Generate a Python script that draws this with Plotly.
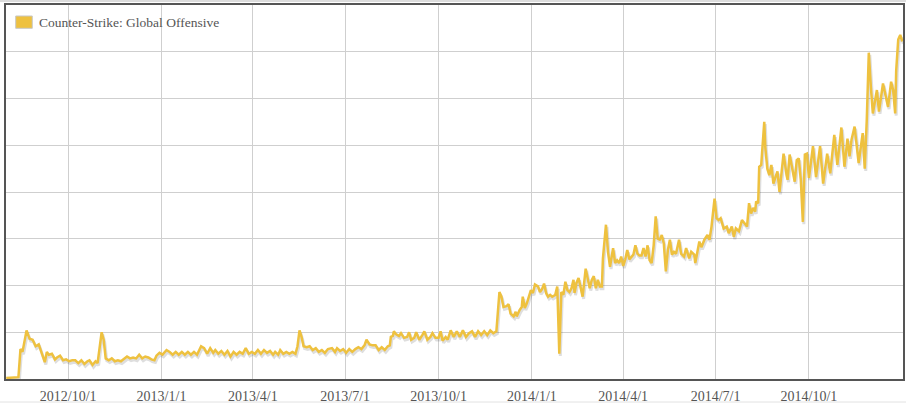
import pandas as pd
import plotly.graph_objects as go

series_name = "Counter-Strike: Global Offensive"

# days since 2012-08-01
day = [0, 12, 14, 16, 20, 23, 26, 29, 32, 35, 38, 40, 42, 45, 48, 50, 53, 56, 59, 62,
       65, 68, 71, 74, 77, 80, 82, 85, 88, 90, 92, 94, 96, 98, 101, 104, 107, 110, 113, 116,
       119, 122, 125, 128, 131, 134, 137, 140, 143, 146, 148, 151,
       154, 158, 161, 164, 167, 170, 173, 176, 179, 182, 185, 188, 192, 195, 198, 201, 204, 206,
       209, 212, 215, 218, 221, 224, 227, 230, 233, 236, 239, 242, 245, 248, 251, 254, 257, 260,
       263, 265, 268, 270, 273, 276, 279, 282, 285, 287, 289, 291, 293, 296, 299, 302, 305, 308,
       311, 314, 317,
       321, 324, 326, 329, 332, 335, 338, 341, 344, 347, 350, 353, 355, 358, 361, 364, 367, 370,
       373, 376, 378, 379, 381, 382, 384, 387, 389, 392, 395, 397, 399, 402, 404, 407, 410, 412,
       415, 418, 420, 423, 426, 428, 430, 433, 435, 438, 441, 444, 447, 450, 453, 456, 459, 462,
       465, 468, 471, 474, 477, 480, 483, 484, 486, 488, 490, 493, 495, 497, 500, 502, 503, 506,
       508, 509, 511, 513, 515, 517, 519, 521, 524, 526, 528, 530, 532, 534, 536, 538, 541, 543,
       545, 547, 549, 551, 553, 555, 557, 559, 560, 562, 564, 566, 568, 571, 573, 575, 577, 579,
       581, 583, 585, 587, 588, 591, 593, 595, 598, 600, 602, 604, 606, 608, 610, 612, 614, 617,
       618, 620, 622, 624, 626, 628, 630, 632, 634, 636, 638, 640, 642, 644, 646, 648, 650, 652,
       654, 656, 658, 660, 663, 665, 668, 670, 673, 675, 678, 679, 681, 683, 685, 688, 691, 693,
       695, 698, 700, 702, 704, 707, 710, 712, 715, 717, 719, 722, 725, 727, 730, 732, 734, 736,
       738, 739, 741, 742, 744, 747, 748, 750, 752, 754, 756, 758, 760, 762, 764, 766, 769, 770,
       772, 775, 777, 779, 781, 783, 785, 787, 789, 791,
       795, 798, 802, 805, 809, 812, 816, 819, 823, 826, 829, 831, 833, 836, 840, 844, 846, 848,
       850, 852, 854, 858, 860, 864, 869, 872, 874, 876, 877, 879, 881, 883]

# concurrent players (thousands)
players = [1, 2, 32, 29, 52, 43, 42, 35, 37, 28, 18, 29, 26, 27, 21, 23, 25, 20, 21, 19,
           20, 20, 17, 20, 16, 19, 20, 15, 19, 17, 31, 50, 42, 22, 20, 22, 19, 20, 19, 22,
           24, 22, 23, 22, 26, 22, 24, 23, 21, 20, 25, 28,
           26, 31, 29, 26, 29, 26, 29, 26, 29, 26, 29, 26, 35, 33, 27, 33, 28, 31,
           27, 30, 26, 30, 24, 29, 26, 29, 27, 33, 27, 29, 27, 31, 27, 31, 28, 30,
           26, 29, 26, 31, 27, 29, 27, 29, 27, 35, 52, 45, 35, 34, 35, 31, 33, 29,
           31, 28, 32,
           33, 29, 33, 30, 32, 28, 32, 29, 32, 34, 32, 36, 42, 37, 36, 36, 31, 34,
           31, 35, 36, 45, 46, 51, 48, 46, 49, 44, 45, 50, 42, 44, 50, 42, 47, 51,
           42, 45, 49, 44, 44, 51, 41, 45, 42, 52, 45, 51, 45, 52, 45, 49, 51, 45,
           51, 47, 51, 47, 52, 49, 51, 67, 93, 88, 77, 78, 80, 70, 67, 72, 67, 74,
           77, 88, 76, 81, 88, 95, 92, 101, 99, 93, 96, 102, 92, 88, 90, 88, 90, 99,
           27, 93, 90, 104, 95, 93, 97, 106, 92, 103, 108, 97, 88, 118, 109, 97, 106, 110,
           97, 106, 99, 99, 129, 165, 136, 120, 140, 124, 127, 124, 131, 121, 128, 138, 128, 132,
           133, 143, 134, 132, 132, 140, 131, 143, 127, 124, 143, 174, 150, 149, 154, 145, 115, 138,
           149, 133, 136, 134, 149, 134, 131, 140, 129, 136, 133, 124, 136, 147, 141, 149, 154, 149,
           163, 193, 172, 170, 172, 161, 163, 156, 163, 152, 161, 158, 170, 167, 163, 188, 177, 183,
           179, 190, 188, 227, 229, 275, 248, 225, 218, 229, 209, 216, 222, 200, 220, 241, 218, 213,
           240, 220, 211, 234, 236, 213, 168, 240, 241, 215,
           249, 216, 249, 209, 241, 220, 261, 229, 269, 227, 257, 238, 256, 270, 231, 263, 225, 277,
           349, 313, 284, 309, 286, 316, 291, 318, 309, 284, 330, 363, 368, 361]

tick_dates = ["2012-10-01", "2013-01-01", "2013-04-01", "2013-07-01", "2013-10-01",
              "2014-01-01", "2014-04-01", "2014-07-01", "2014-10-01"]
tick_labels = ["2012/10/1", "2013/1/1", "2013/4/1", "2013/7/1", "2013/10/1",
               "2014/1/1", "2014/4/1", "2014/7/1", "2014/10/1"]

dates = pd.Timestamp("2012-08-01") + pd.to_timedelta(day, unit="D")

LINE = "#EEC13F"

fig = go.Figure()
# soft drop shadow under the line
fig.add_trace(go.Scatter(
    x=dates + pd.Timedelta(days=1), y=[p - 2.4 for p in players], mode="lines",
    line=dict(color="rgba(0,0,0,0.13)", width=3), hoverinfo="skip", showlegend=False))
fig.add_trace(go.Scatter(
    x=dates, y=players, mode="lines", name=series_name,
    line=dict(color=LINE, width=2.5), showlegend=False))

fig.update_layout(
    width=906, height=405,
    margin=dict(l=6, r=1, t=5, b=26),
    paper_bgcolor="white", plot_bgcolor="white",
    font=dict(family="Liberation Serif, Times New Roman, serif", color="#555"),
    xaxis=dict(
        type="date",
        range=["2012-07-31 18:00", "2015-01-01 17:00"],
        tickvals=tick_dates, ticktext=tick_labels,
        tickfont=dict(size=14, color="#555"),
        ticks="outside", ticklen=3, tickcolor="rgba(0,0,0,0)",
        showgrid=True, gridcolor="#cfcfcf", gridwidth=1,
        showline=True, linecolor="#555", linewidth=2, mirror=True,
        zeroline=False, fixedrange=True,
    ),
    yaxis=dict(
        range=[0, 400], dtick=50, tick0=0,
        showticklabels=False, ticks="",
        showgrid=True, gridcolor="#cfcfcf", gridwidth=1,
        showline=True, linecolor="#555", linewidth=2, mirror=True,
        zeroline=False, fixedrange=True,
    ),
    shapes=[
        dict(type="rect", xref="paper", yref="paper",
             x0=0.0108, x1=0.0293, y0=0.9377, y1=0.9706,
             fillcolor="#EEC13F", line=dict(color="#c8c8c8", width=1)),
        dict(type="line", xref="paper", yref="paper",
             x0=-0.01, x1=1.01, y0=1.0107, y1=1.0107,
             line=dict(color="#dcdcdc", width=2)),
        dict(type="line", xref="paper", yref="paper",
             x0=-0.01, x1=1.01, y0=-0.0615, y1=-0.0615,
             line=dict(color="#e2e2e2", width=1)),
    ],
    annotations=[
        dict(text=series_name, xref="paper", yref="paper",
             x=0.0341, y=0.9545, xanchor="left", yanchor="middle",
             showarrow=False, font=dict(size=13.5, color="#555")),
    ],
)

fig.write_html(
    "out.html",
    config={"displayModeBar": False},
    post_script="document.body.style.margin='0';document.body.style.overflow='hidden';",
)
